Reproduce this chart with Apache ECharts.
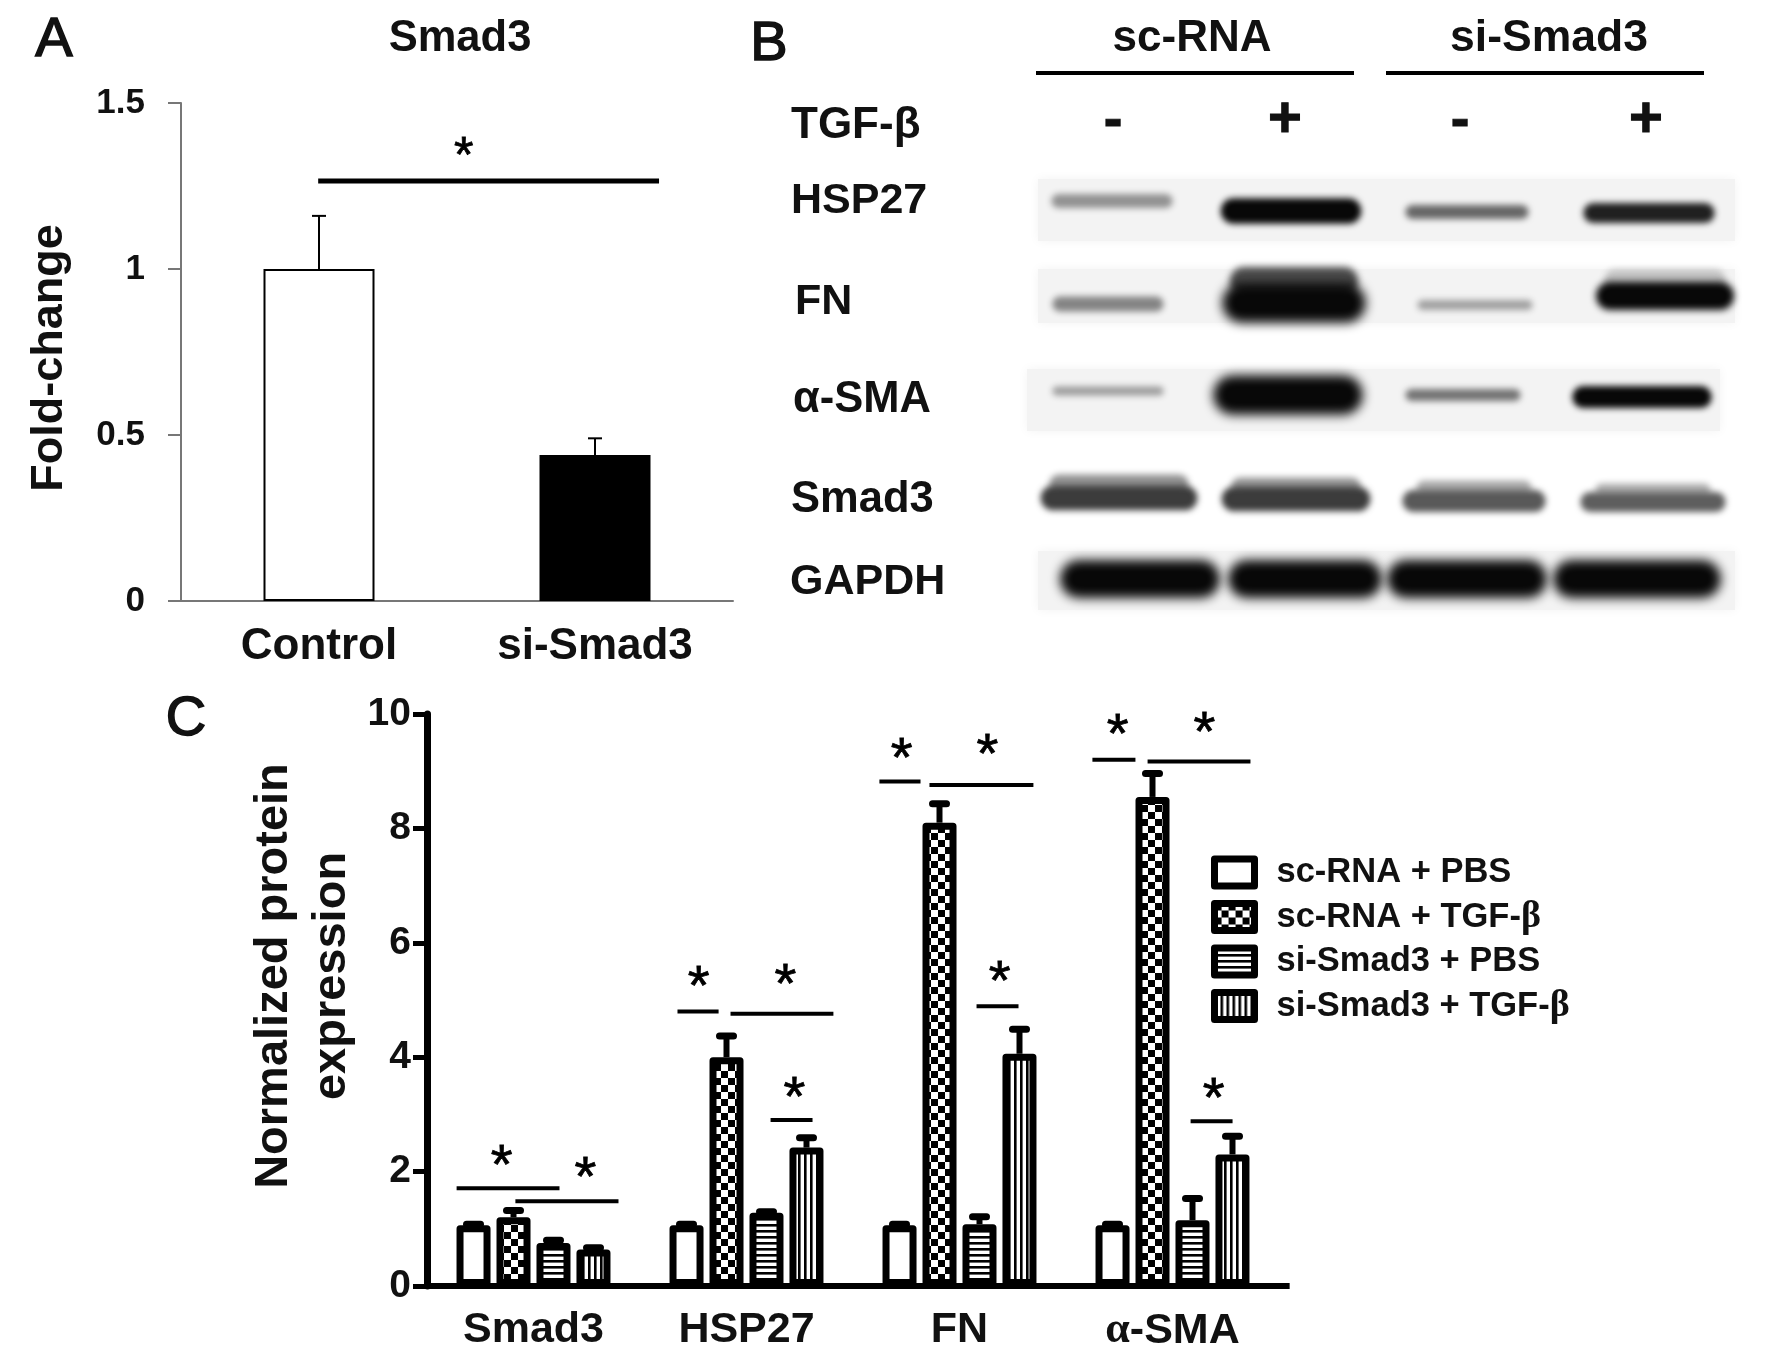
<!DOCTYPE html>
<html><head><meta charset="utf-8">
<style>html,body{margin:0;padding:0;background:#fff}#c{width:1772px;height:1358px}</style>
<script src="https://cdn.jsdelivr.net/npm/echarts@6/dist/echarts.min.js"></script>
</head><body><div id="c"></div>
<script>
// ---- Panel A ----
const aCategories = ['Control', 'si-Smad3'];
const aValues = [1.0, 0.44];
const aErrors = [0.16, 0.05];
const aSigStart = [0.497], aSigEnd = [1.732], aSigY = [1.265];
const aStarX = [1.024], aStarY = [1.367];

// ---- Panel B: band extents along the gel (lane position, migration, width, thickness, density)
const blotLabels = ['HSP27', 'FN', 'α-SMA', 'Smad3', 'GAPDH'];
const blotBackgrounds = [[11, 716, 0, 70], [11, 716, 90, 152], [0, 701, 190, 260], [11, 716, 372, 439]];
const hsp27Bands = [[89, 26, 126, 19, 0.42], [268, 36, 146, 31, 1.0], [444, 37, 128, 19, 0.6], [626, 38, 136, 25, 0.9]];
const fnBands = [[85, 129, 116, 20, 0.48], [271, 106, 134, 34, 0.72], [271, 128, 152, 48, 1.0], [452, 130, 120, 15, 0.36], [642, 105, 126, 26, 0.22], [642, 121, 144, 34, 1.0]];
const smaBands = [[85, 216, 116, 14, 0.38], [265, 220, 158, 48, 1.0], [440, 220, 120, 17, 0.55], [619, 222, 144, 27, 1.0]];
const smad3Bands = [[96, 309, 144, 24, 0.42], [96, 323, 162, 30, 0.78], [273, 311, 134, 22, 0.4], [273, 324, 154, 30, 0.78], [451, 313, 120, 20, 0.32], [451, 326, 148, 27, 0.66], [630, 315, 120, 18, 0.3], [630, 327, 150, 25, 0.64]];
const gapdhBands = [[117, 404, 168, 46, 1.0], [282, 404, 162, 46, 1.0], [444, 404, 168, 46, 1.0], [614, 404, 176, 46, 1.0]];

// ---- Panel C ----
const cCategories = ['Smad3', 'HSP27', 'FN', 'α-SMA'];
const scPbs = [1.06, 1.06, 1.06, 1.06];
const scTgf = [1.2, 4.0, 8.1, 8.55];
const siPbs = [0.75, 1.28, 1.08, 1.15];
const siTgf = [0.64, 2.42, 4.06, 2.3];
const scPbsErr = [0.02, 0.02, 0.02, 0.02];
const scTgfErr = [0.12, 0.37, 0.33, 0.41];
const siPbsErr = [0.05, 0.02, 0.13, 0.38];
const siTgfErr = [0.03, 0.17, 0.43, 0.32];
const cSeriesNames = ['sc-RNA + PBS', 'sc-RNA + TGF-β', 'si-Smad3 + PBS', 'si-Smad3 + TGF-β'];
const cSigStart = [0.139, 0.415, 1.176, 1.425, 1.613, 2.124, 2.359, 2.58, 3.124, 3.383, 3.585];
const cSigEnd   = [0.622, 0.899, 1.369, 1.908, 1.81, 2.317, 2.847, 2.777, 3.326, 3.866, 3.782];
const cSigY     = [1.71, 1.48, 4.80, 4.76, 2.90, 8.82, 8.76, 4.89, 9.20, 9.17, 2.88];
const cStarX    = [0.35, 0.744, 1.275, 1.683, 1.725, 2.228, 2.631, 2.688, 3.242, 3.65, 3.693];
const cStarY    = [2.22, 2.01, 5.36, 5.39, 3.42, 9.34, 9.41, 5.45, 9.76, 9.79, 3.40];

const FONT = '"Liberation Sans", Arial, sans-serif';
const INK = '#000';

function pattern(kind) {
  const c = document.createElement('canvas');
  const ctx = c.getContext('2d');
  if (kind === 'plain') { c.width = c.height = 4; ctx.fillStyle = '#fff'; ctx.fillRect(0,0,4,4); return c; }
  if (kind === 'check') {
    c.width = c.height = 14; ctx.fillStyle = '#fff'; ctx.fillRect(0,0,14,14);
    ctx.fillStyle = '#000'; ctx.fillRect(0,0,7,7); ctx.fillRect(7,7,7,7); return c;
  }
  c.width = c.height = 6; ctx.fillStyle = '#fff'; ctx.fillRect(0,0,6,6); ctx.fillStyle = '#000';
  if (kind === 'h') ctx.fillRect(0,0,6,2.6); else ctx.fillRect(0,0,2.6,6);
  return c;
}
const cPatterns = ['plain', 'check', 'h', 'v'].map(pattern);

function sigItem(params, api, lw, fs, dy) {
  const a = api.coord([api.value(0), api.value(2)]);
  const b = api.coord([api.value(1), api.value(2)]);
  const s = api.coord([api.value(3), api.value(4)]);
  return { type: 'group', children: [
    { type: 'line', shape: { x1: a[0], y1: a[1], x2: b[0], y2: b[1] }, style: { stroke: INK, lineWidth: lw, fill: null } },
    { type: 'text', style: { x: s[0], y: s[1] + dy, text: '*', font: 'normal ' + fs + 'px ' + FONT, fill: INK, stroke: INK, lineWidth: 0.8, align: 'center', verticalAlign: 'middle' } }
  ]};
}
function errItem(api, offset, lw, capLw, capHalf, round) {
  const base = api.coord([api.value(0), api.value(1)]);
  const top = api.coord([api.value(0), api.value(1) + api.value(2)]);
  const x = base[0] + offset;
  return { type: 'group', children: [
    { type: 'line', shape: { x1: x, y1: base[1], x2: x, y2: top[1] }, style: { stroke: INK, lineWidth: lw, fill: null } },
    { type: 'line', shape: { x1: x - capHalf, y1: top[1], x2: x + capHalf, y2: top[1] }, style: { stroke: INK, lineWidth: capLw, lineCap: round ? 'round' : 'butt', fill: null } }
  ]};
}
function gray(d) { const g = Math.round(238 * (1 - d) + 8); return 'rgb(' + g + ',' + g + ',' + g + ')'; }
const OFF = 3000; // only the blurred shadow of each band is visible
function bandItem(params, api) {
  const c = api.coord([api.value(0), api.value(1)]);
  const w = api.value(2), h = api.value(3);
  const col = gray(api.value(4));
  const blur = Math.max(6, h * 0.22);
  const iw = w - blur * 0.8, ih = h - blur * 0.8;
  return { type: 'rect', shape: { x: c[0] - iw / 2 - OFF, y: c[1] - ih / 2, width: iw, height: ih, r: ih / 2 },
    style: { fill: col, shadowBlur: blur, shadowColor: col, shadowOffsetX: OFF, shadowOffsetY: 0 } };
}
function bgItem(params, api) {
  const a = api.coord([api.value(0), api.value(2)]);
  const b = api.coord([api.value(1), api.value(3)]);
  return { type: 'rect', shape: { x: a[0] + 4, y: a[1] + 4, width: b[0] - a[0] - 8, height: b[1] - a[1] - 8 },
    style: { fill: '#f3f3f3', shadowBlur: 10, shadowColor: '#f3f3f3' } };
}
function txt(text, x, y, size, opt) {
  return { type: 'text', x: x, y: y, z: 20, style: Object.assign({ text: text, fontFamily: FONT, fontWeight: 'bold', fontSize: size, fill: '#111', align: 'center', verticalAlign: 'middle' }, opt || {}) };
}
const heavy = { fontWeight: 'normal', stroke: '#111', lineWidth: 1.5 };
const graphicText = [
  txt('A', 54, 41, 56, heavy),
  txt('B', 769, 45, 56, heavy),
  txt('C', 186, 720, 56, heavy),
  txt('Smad3', 460, 39, 43.5),
  txt('sc-RNA', 1192, 39, 44),
  txt('si-Smad3', 1549, 39, 44.5),
  txt('TGF-β', 791, 126, 44, { align: 'left' }),
  txt('-', 1113, 122, 56, { stroke: '#111', lineWidth: 1 }),
  txt('+', 1285, 121, 58, { stroke: '#111', lineWidth: 1 }),
  txt('-', 1460, 122, 56, { stroke: '#111', lineWidth: 1 }),
  txt('+', 1646, 121, 58, { stroke: '#111', lineWidth: 1 }),
  txt(blotLabels[0], 791, 201, 43, { align: 'left' }),
  txt(blotLabels[1], 795, 302, 43, { align: 'left' }),
  txt(blotLabels[2], 793, 400, 43.5, { align: 'left' }),
  txt(blotLabels[3], 791, 500, 43.5, { align: 'left' }),
  txt(blotLabels[4], 790, 582, 43, { align: 'left' }),
  { type: 'rect', shape: { x: 1036, y: 71, width: 318, height: 4 }, style: { fill: INK }, z: 20 },
  { type: 'rect', shape: { x: 1386, y: 71, width: 318, height: 4 }, style: { fill: INK }, z: 20 }
];

const allBands = [].concat(hsp27Bands, fnBands, smaBands, smad3Bands, gapdhBands);
const cValues = [scPbs, scTgf, siPbs, siTgf];
const cErrors = [scPbsErr, scTgfErr, siPbsErr, siTgfErr];
const STEP = 40;

const option = {
  animation: false,
  backgroundColor: '#fff',
  textStyle: { fontFamily: FONT },
  graphic: graphicText,
  grid: [
    { left: 181, top: 103, width: 552, height: 498 },
    { left: 1023, top: 175, width: 716, height: 440 },
    { left: 427, top: 714, width: 852, height: 572 }
  ],
  xAxis: [
    { type: 'category', gridIndex: 0, data: aCategories,
      axisLine: { lineStyle: { color: '#777', width: 2 } }, axisTick: { length: 12, lineStyle: { color: '#777', width: 2 } },
      axisLabel: { interval: 0, color: '#111', fontFamily: FONT, fontWeight: 'bold', fontSize: 44, margin: 24 } },
    { type: 'value', gridIndex: 0, min: 0, max: 2, show: false },
    { type: 'value', gridIndex: 1, min: 0, max: 716, show: false },
    { type: 'category', gridIndex: 2, data: cCategories,
      axisLine: { lineStyle: { color: INK, width: 6 } }, axisTick: { alignWithLabel: true, length: 15, lineStyle: { color: INK, width: 5 } },
      axisLabel: { interval: 0, color: '#111', fontFamily: FONT, fontWeight: 'bold', fontSize: 43, margin: 23,
        formatter: v => v.startsWith('α') ? '{g|α}-SMA' : v,
        rich: { g: { fontFamily: '"Liberation Serif", serif', fontWeight: 'bold', fontSize: 44, color: '#111' } } } },
    { type: 'value', gridIndex: 2, min: 0, max: 4, show: false }
  ],
  yAxis: [
    { type: 'value', gridIndex: 0, min: 0, max: 1.5, interval: 0.5, splitLine: { show: false },
      name: 'Fold-change', nameLocation: 'middle', nameGap: 109, nameRotate: 90,
      nameTextStyle: { color: '#111', fontFamily: FONT, fontWeight: 'bold', fontSize: 45, padding: [0, 12, 0, 0] },
      axisLine: { show: true, lineStyle: { color: '#777', width: 2 } }, axisTick: { show: true, length: 13, lineStyle: { color: '#777', width: 2 } },
      axisLabel: { color: '#111', fontFamily: FONT, fontWeight: 'bold', fontSize: 35, margin: 36, padding: [2, 0, 0, 0] } },
    { type: 'value', gridIndex: 1, min: 0, max: 440, inverse: true, show: false },
    { type: 'value', gridIndex: 2, min: 0, max: 10, interval: 2, splitLine: { show: false },
      name: 'Normalized protein\nexpression', nameLocation: 'middle', nameGap: 66, nameRotate: 90,
      nameTextStyle: { color: '#111', fontFamily: FONT, fontWeight: 'bold', fontSize: 47, lineHeight: 58, padding: [0, 0, 0, 48] },
      axisLine: { show: true, lineStyle: { color: INK, width: 7 } }, axisTick: { show: true, length: 14, lineStyle: { color: INK, width: 5 } },
      axisLabel: { color: '#111', fontFamily: FONT, fontWeight: 'bold', fontSize: 39, margin: 16, padding: [3, 0, 0, 0] } }
  ],
  legend: {
    left: 1206, top: 850, orient: 'vertical', itemWidth: 40, itemHeight: 27, itemGap: 8,
    data: cSeriesNames, icon: 'rect', selectedMode: false,
    itemStyle: { borderWidth: 7, borderColor: INK, borderJoin: 'round' },
    textStyle: { color: '#111', fontFamily: FONT, fontWeight: 'bold', fontSize: 34.5, lineHeight: 27,
      rich: { t: { color: '#111', fontFamily: FONT, fontWeight: 'bold', fontSize: 34.5, lineHeight: 27, padding: [0, 0, 0, 17] },
              g: { color: '#111', fontFamily: '"Liberation Serif", serif', fontSize: 38, lineHeight: 27 } } },
    formatter: n => n.endsWith('β') ? '{t|' + n.slice(0, -1) + '}{g|β}' : '{t|' + n + '}'
  },
  series: [
    { type: 'bar', xAxisIndex: 0, yAxisIndex: 0, barWidth: 111, z: 2,
      data: aValues.map((v, i) => ({ value: v, itemStyle: { color: i ? '#000' : '#fff', borderColor: INK, borderWidth: 2 } })) },
    { type: 'custom', xAxisIndex: 0, yAxisIndex: 0, z: 3,
      data: aValues.map((v, i) => [i, v, aErrors[i]]), encode: { x: 0, y: 1 },
      renderItem: (p, api) => errItem(api, 0, 2, 2, 7, false) },
    { type: 'custom', xAxisIndex: 1, yAxisIndex: 0, z: 3,
      data: aSigStart.map((v, i) => [v, aSigEnd[i], aSigY[i], aStarX[i], aStarY[i]]),
      encode: { x: [0, 1], y: 2 }, renderItem: (p, api) => sigItem(p, api, 5, 50, 11) },
    { type: 'custom', xAxisIndex: 2, yAxisIndex: 1, z: 1,
      data: blotBackgrounds, encode: { x: [0, 1], y: [2, 3] }, renderItem: bgItem },
    { type: 'custom', xAxisIndex: 2, yAxisIndex: 1, z: 2,
      data: allBands, encode: { x: 0, y: 1 }, renderItem: bandItem },
    ...cSeriesNames.map((name, k) => ({
      type: 'bar', name, xAxisIndex: 3, yAxisIndex: 2, barWidth: 34, barGap: '17.6%', z: 4,
      itemStyle: { color: { image: cPatterns[k], repeat: 'repeat' }, borderColor: INK, borderWidth: 7, borderJoin: 'round' },
      data: cValues[k]
    })),
    ...cSeriesNames.map((name, k) => ({
      type: 'custom', xAxisIndex: 3, yAxisIndex: 2, z: 3,
      data: cValues[k].map((v, i) => [i, v, cErrors[k][i]]), encode: { x: 0, y: 1 },
      renderItem: (p, api) => errItem(api, (k - 1.5) * STEP, 6, 7, 7, true)
    })),
    { type: 'custom', xAxisIndex: 4, yAxisIndex: 2, z: 5,
      data: cSigStart.map((v, i) => [v, cSigEnd[i], cSigY[i], cStarX[i], cStarY[i]]),
      encode: { x: [0, 1], y: 2 }, renderItem: (p, api) => sigItem(p, api, 4, 56, 9) },
    { type: 'custom', xAxisIndex: 4, yAxisIndex: 2, z: 5, silent: true, clip: false,
      data: [[4, 4.05, 0]], encode: { x: [0, 1], y: 2 },
      renderItem: (p, api) => { const a = api.coord([api.value(0), api.value(2)]); const b = api.coord([api.value(1), api.value(2)]);
        return { type: 'line', shape: { x1: a[0], y1: a[1], x2: b[0], y2: b[1] }, style: { stroke: INK, lineWidth: 6, fill: null } }; } }
  ]
};
const chart = echarts.init(document.getElementById('c'), null, { renderer: 'canvas' });
chart.setOption(option);
</script></body></html>
